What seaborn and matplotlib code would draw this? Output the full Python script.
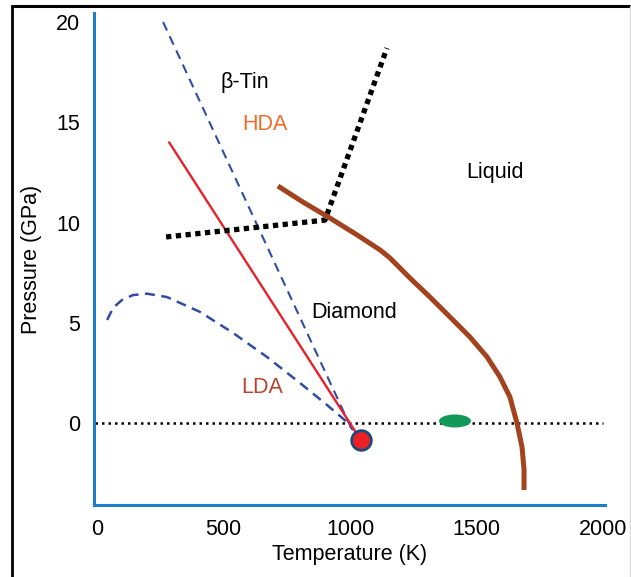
import matplotlib
matplotlib.use("Agg")
import matplotlib.pyplot as plt
import seaborn as sns
import numpy as np
import pandas as pd
from matplotlib.patches import Ellipse
from matplotlib.lines import Line2D

# ---- data ----
zero_T = [-10, 2000]
zero_P = [0, 0]

red_T = [285, 1030]
red_P = [14.0, -0.6]

blue_line_T = [261, 1012]
blue_line_P = [20.0, -0.45]

blue_curve_T = [40, 63, 100, 142, 198, 277, 407, 538, 672, 802, 909, 988, 1012]
blue_curve_P = [5.14, 5.74, 6.15, 6.38, 6.45, 6.28, 5.54, 4.49, 3.29, 2.0, 0.9, 0.05, -0.35]

black_T = [273, 901, 1146]
black_P = [9.28, 10.12, 18.7]

liquid_T = [715, 814, 921, 1028, 1119, 1158, 1237, 1316, 1395, 1474, 1542, 1593,
            1632, 1660, 1680, 1688, 1688]
liquid_P = [11.82, 11.02, 10.22, 9.38, 8.63, 8.23, 7.23, 6.28, 5.29, 4.29, 3.29, 2.29,
            1.30, 0.0, -1.20, -2.34, -3.34]

green_center = (1415, 0.1)
green_size = (126, 0.65)

marker_T = [1042]
marker_P = [-0.85]

labels = ["\u03b2-Tin", "HDA", "Liquid", "Diamond", "LDA"]
label_T = [585, 664, 1573, 1016, 652]
label_P = [16.96, 14.9, 12.47, 5.5, 1.75]
label_colors = ["black", "#f26b2a", "black", "black", "#b5452c"]

xticks = [0, 500, 1000, 1500, 2000]
yticks = [0, 5, 10, 15, 20]

# ---- plotting ----
sns.set_theme(style="white")
plt.rcParams['font.family'] = ['Liberation Sans', 'DejaVu Sans']

fig = plt.figure(figsize=(6.31, 5.77), dpi=100)
ax = fig.add_axes([94/631, 72/577, 511/631, 492/577])

kw = dict(ax=ax, sort=False, estimator=None)
sns.lineplot(x=zero_T, y=zero_P, color="black", lw=1.8,
             linestyle=(0, (1, 1.6)), **kw)
sns.lineplot(x=blue_curve_T, y=blue_curve_P, color="#2f4da6", lw=1.8,
             linestyle=(0, (4, 2.6)), **kw)
sns.lineplot(x=blue_line_T, y=blue_line_P, color="#2f4da6", lw=1.5,
             linestyle=(0, (4.5, 3)), **kw)
sns.lineplot(x=red_T, y=red_P, color="#e8202a", lw=1.7, **kw)
sns.lineplot(x=black_T, y=black_P, color="black", lw=3.8,
             linestyle=(0, (1, 0.85)), **kw)
ax.lines[-1].set_dash_capstyle("butt")
sns.lineplot(x=liquid_T, y=liquid_P, color="#a3431e", lw=3.6, **kw)
ax.lines[-1].set_solid_capstyle("butt")
ax.lines[-1].set_solid_joinstyle("round")

ax.add_patch(Ellipse(green_center, green_size[0], green_size[1],
                     facecolor="#139a5a", edgecolor="none", zorder=4))
sns.scatterplot(x=marker_T, y=marker_P, ax=ax, s=200, color="#ec2027",
                edgecolor="#1c4a78", linewidth=2, zorder=5)

for t, x, y, c in zip(labels, label_T, label_P, label_colors):
    ax.text(x, y, t, color=c, fontsize=15.5, ha="center", va="center")

ax.set_xlim(-12, 2008)
ax.set_ylim(-4.09, 20.45)
ax.set_xticks(xticks)
ax.set_yticks(yticks)
ax.tick_params(axis="both", length=0, labelsize=15.5, pad=10, colors="black")
for s in ["top", "right"]:
    ax.spines[s].set_visible(False)
for s in ["left", "bottom"]:
    ax.spines[s].set_color("#1f7cc6")
    ax.spines[s].set_linewidth(2.2)
ax.set_xlabel("Temperature (K)", fontsize=15.5, color="black", labelpad=3)
ax.set_ylabel("Pressure (GPa)", fontsize=15.5, color="black", labelpad=10)

# figure border
fig.add_artist(Line2D([12/631, 12/631], [0, 1 - 6/577], transform=fig.transFigure,
                      color="black", lw=2))
fig.add_artist(Line2D([12/631, 1], [1 - 6/577, 1 - 6/577], transform=fig.transFigure,
                      color="black", lw=2.2))
fig.add_artist(Line2D([630/631, 630/631], [0, 1 - 6/577], transform=fig.transFigure,
                      color="#d8d8d8", lw=1))

fig.savefig("out.png", dpi=100)
